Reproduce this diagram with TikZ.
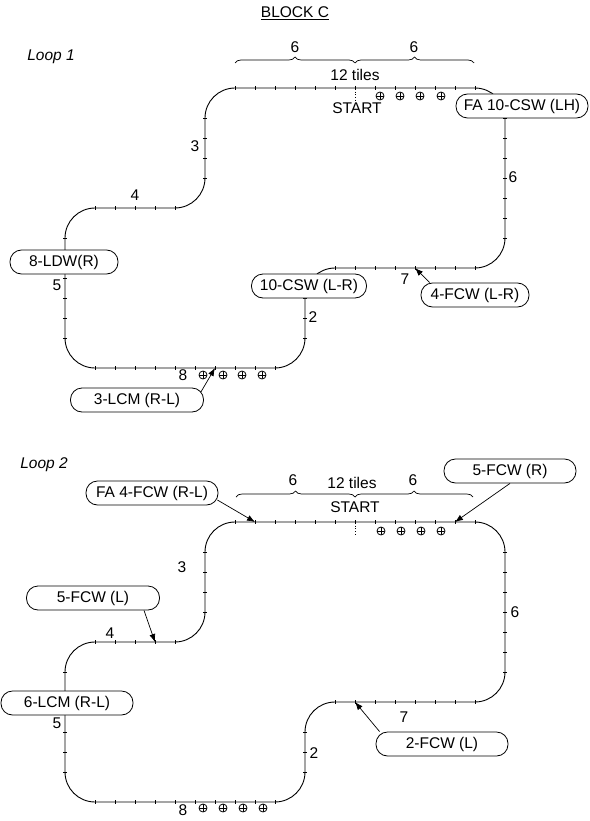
\documentclass[tikz,border=0pt]{standalone}
\usepackage{fontspec}
\setmainfont{Liberation Sans}
\usetikzlibrary{arrows.meta,decorations.pathreplacing,calc}
\newcommand\mysize{\fontsize{15.5}{18}\selectfont}
\newcommand\trackloop{%
  \draw[track,rounded corners=30pt] (355,88) -- (505,88) -- (505,268) -- (305,268) -- (305,368) -- (65,368) -- (65,208) -- (205,208) -- (205,88) -- (355,88);
  \foreach \x in {235,255,...,475} \draw[tick] (\x,86) -- (\x,90);
  \foreach \x in {335,355,...,475} \draw[tick] (\x,266) -- (\x,270);
  \foreach \x in {95,115,...,275} \draw[tick] (\x,366) -- (\x,370);
  \foreach \x in {95,115,...,175} \draw[tick] (\x,206) -- (\x,210);
  \foreach \y in {118,138,...,238} \draw[tick] (503,\y) -- (507,\y);
  \foreach \y in {298,318,338} \draw[tick] (303,\y) -- (307,\y);
  \foreach \y in {238,258,...,338} \draw[tick] (63,\y) -- (67,\y);
  \foreach \y in {118,138,...,178} \draw[tick] (203,\y) -- (207,\y);
}
\begin{document}
\begin{tikzpicture}[x=1pt,y=-1pt,
  track/.style={line width=0.9pt},
  tick/.style={line width=0.7pt},
  lbl/.style={draw, line width=0.8pt, fill=white, rounded corners=11.5pt, minimum height=24pt, inner sep=1pt, font=\mysize},
  txt/.style={inner sep=0pt, font=\mysize},
  arr/.style={line width=0.7pt, -{Latex[length=8pt,width=6pt]}},
  brc/.style={decorate, decoration={brace, amplitude=6pt}, line width=0.7pt},
  startline/.style={dotted, line width=0.8pt},
  opl/.style={circle, draw, line width=0.8pt, minimum size=8pt, inner sep=0pt,
    path picture={\draw[line width=0.8pt] (path picture bounding box.north) -- (path picture bounding box.south) (path picture bounding box.west) -- (path picture bounding box.east);}}]
\useasboundingbox (0,0) rectangle (589,821);

% tracks
\trackloop
\begin{scope}[yshift=-434pt]
\trackloop
\end{scope}

% start lines
\draw[startline] (355,86) -- (355,101);
\draw[startline] (355,520) -- (355,536);

% braces
\draw[brc] (235,63) -- (355,63);
\draw[brc] (355,63) -- (474,63);
\draw[brc] (236,497) -- (355,497);
\draw[brc] (355,497) -- (473,497);

% titles
\node[txt] (title) at (295,13) {\underline{BLOCK C}};
\node[txt] (loopa) at (51,57) {\itshape Loop 1};
\node[txt] (loopb) at (44,465) {\itshape Loop 2};

% loop 1 texts
\node[txt] (a6l) at (295,47) {6};
\node[txt] (a6r) at (414,47) {6};
\node[txt] (a12) at (355,75) {12 tiles};
\node[txt] (astart) at (357,108) {START};
\node[txt] (a3) at (195,146) {3};
\node[txt] (a4) at (135,195) {4};
\node[txt] (a6v) at (513,177) {6};
\node[txt] (a7) at (405,279) {7};
\node[txt] (a2) at (313,317) {2};
\node[txt] (a5) at (57,285) {5};
\node[txt] (a8) at (183,375) {8};

% loop 2 texts
\node[txt] (b6l) at (293,480) {6};
\node[txt] (b6r) at (413,480) {6};
\node[txt] (b12) at (352,483) {12 tiles};
\node[txt] (bstart) at (355,507) {START};
\node[txt] (b3) at (182,567) {3};
\node[txt] (b4) at (110,633) {4};
\node[txt] (b6v) at (515,612) {6};
\node[txt] (b7) at (404,717) {7};
\node[txt] (b2) at (314,753) {2};
\node[txt] (b5) at (57,723) {5};
\node[txt] (b8) at (183,810) {8};

% circled plus marks
\node[opl] (p1) at (380,96) {};
\node[opl] (p2) at (400,96) {};
\node[opl] (p3) at (420,96) {};
\node[opl] (p4) at (441,96) {};
\node[opl] (p5) at (203,375) {};
\node[opl] (p6) at (223,375) {};
\node[opl] (p7) at (242,375) {};
\node[opl] (p8) at (262,375) {};
\node[opl] (q1) at (381,531) {};
\node[opl] (q2) at (401,531) {};
\node[opl] (q3) at (421,531) {};
\node[opl] (q4) at (441,531) {};
\node[opl] (q5) at (203,808) {};
\node[opl] (q6) at (223,808) {};
\node[opl] (q7) at (243,808) {};
\node[opl] (q8) at (263,808) {};

% labels loop 1
\node[lbl, minimum width=108pt] (ldw) at (64,262) {8-LDW(R)};
\node[lbl, minimum width=133pt] (lcm) at (137,400) {3-LCM (R-L)};
\node[lbl, minimum width=115pt] (csw) at (309,286) {10-CSW (L-R)};
\node[lbl, minimum width=108pt] (fcwa) at (475,295) {4-FCW (L-R)};
\node[lbl, minimum width=132pt] (facsw) at (522,106) {FA 10-CSW (LH)};

% labels loop 2
\node[lbl, minimum width=132pt] (fafcw) at (152,493) {FA 4-FCW (R-L)};
\node[lbl, minimum width=133pt] (fcwl) at (93,598) {5-FCW (L)};
\node[lbl, minimum width=132pt] (lcmb) at (67,703) {6-LCM (R-L)};
\node[lbl, minimum width=132pt] (fcwr) at (510,471) {5-FCW (R)};
\node[lbl, minimum width=132pt] (fcwb) at (442,744) {2-FCW (L)};

% arrows
\coordinate (t1) at (215,368);
\coordinate (t2) at (415,268);
\coordinate (t3) at (255,522);
\coordinate (t4) at (155,642);
\coordinate (t5) at (455,522);
\coordinate (t6) at (355,702);
\draw[arr] ($(lcm.east)+(-3,-8)$) -- (t1);
\draw[arr] ($(fcwa.north west)+(9,0)$) -- (t2);
\draw[arr] ($(fafcw.east)+(-1,7)$) -- (t3);
\draw[arr] ($(fcwl.south)+(51,0)$) -- (t4);
\draw[arr] (fcwr.south) -- (t5);
\draw[arr] ($(fcwb.north west)+(4,0)$) -- (t6);
\end{tikzpicture}
\end{document}
